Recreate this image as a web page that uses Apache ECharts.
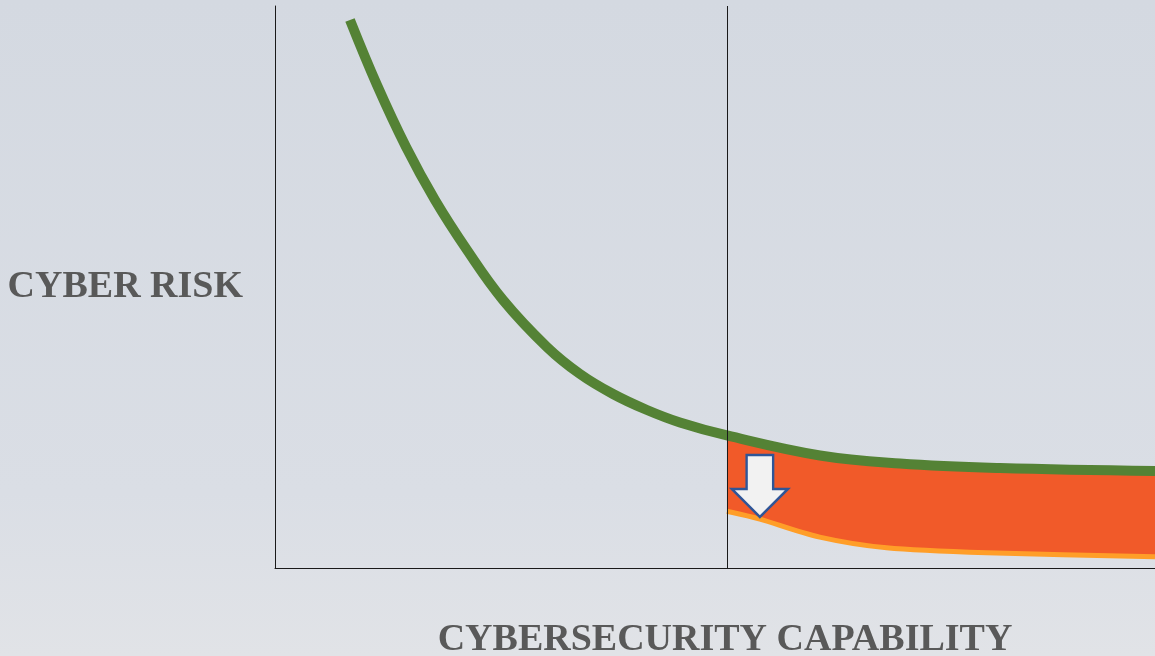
<!DOCTYPE html>
<html>
<head>
<meta charset="UTF-8">
<title>Cyber risk vs capability</title>
<script type="text/javascript" src="https://cdn.jsdelivr.net/npm/echarts@6/dist/echarts.min.js"></script>
<style>
html, body { margin: 0; padding: 0; }
#main { width: 1155px; height: 656px; }
</style>
</head>
<body>
<div id="main"></div>
<script type="text/javascript">
// risk curve (x = capability 0-100, y = risk 0-100)
var riskX = [8.52, 11.59, 14.89, 18.18, 21.82, 25.91, 30.91, 34.66, 38.41, 42.27, 46.02, 51.36, 61.93, 71.02, 82.39, 100];
var riskY = [97.51, 85.94, 74.91, 65.48, 56.58, 47.69, 39.32, 34.52, 30.96, 28.11, 25.89, 23.58, 20.02, 18.59, 17.79, 17.26];

// reduced-risk band, from the current capability onwards
var bandX = [51.36, 55.1, 61.9, 69.5, 80.9, 100];
var bandLow = [10.1, 8.7, 5.5, 3.6, 2.7, 2.0];
var bandHigh = [23.58, 22.24, 20.02, 18.86, 17.88, 17.26];

var currentX = 51.36;
var arrowAt = [55.1, 14.6];

var axisTitleX = 'CYBERSECURITY CAPABILITY';
var axisTitleY = 'CYBER RISK';

function pairs(xs, ys) {
	var out = [];
	for (var i = 0; i < xs.length; i++) out.push([xs[i], ys[i]]);
	return out;
}

// catmull-rom -> cubic bezier segments (starting point not included)
function curveTo(pts) {
	var s = '';
	for (var i = 0; i < pts.length - 1; i++) {
		var p0 = pts[Math.max(i - 1, 0)], p1 = pts[i], p2 = pts[i + 1], p3 = pts[Math.min(i + 2, pts.length - 1)];
		var c1 = [p1[0] + (p2[0] - p0[0]) / 6, p1[1] + (p2[1] - p0[1]) / 6];
		var c2 = [p2[0] - (p3[0] - p1[0]) / 6, p2[1] - (p3[1] - p1[1]) / 6];
		s += ' C' + c1[0] + ' ' + c1[1] + ' ' + c2[0] + ' ' + c2[1] + ' ' + p2[0] + ' ' + p2[1];
	}
	return s;
}

function renderBand(params, api) {
	var top = [], low = [];
	for (var i = 0; i < bandX.length; i++) {
		top.push(api.coord([bandX[i], bandHigh[i]]));
		low.push(api.coord([bandX[i], bandLow[i]]));
	}
	var lowRev = low.slice().reverse();
	var fillPath = 'M' + top[0][0] + ' ' + top[0][1] + curveTo(top) +
		' L' + lowRev[0][0] + ' ' + lowRev[0][1] + curveTo(lowRev) + ' Z';
	var edgePath = 'M' + low[0][0] + ' ' + low[0][1] + curveTo(low);
	return {
		type: 'group',
		children: [
			{ type: 'path', shape: { pathData: fillPath }, style: { fill: '#F15A29' } },
			{ type: 'path', shape: { pathData: edgePath }, style: { fill: null, stroke: '#FF9E28', lineWidth: 5 } }
		]
	};
}

var chart = echarts.init(document.getElementById('main'));

var labelFont = {
	fontFamily: 'Liberation Serif',
	fontWeight: 'bold',
	fontSize: 38,
	color: '#595959'
};

var option = {
	animation: false,
	backgroundColor: {
		type: 'linear', x: 0, y: 0, x2: 0, y2: 1,
		colorStops: [
			{ offset: 0, color: '#D4D9E1' },
			{ offset: 0.75, color: '#DADEE5' },
			{ offset: 1, color: '#E1E3E7' }
		]
	},
	grid: { left: 275, right: 0, top: 6, bottom: 88, outerBoundsMode: 'none', containLabel: false },
	xAxis: {
		type: 'value', min: 0, max: 100,
		name: axisTitleX, nameLocation: 'middle', nameGap: 53,
		nameTextStyle: Object.assign({ padding: [0, 0, 0, 20] }, labelFont),
		axisLine: { show: true, lineStyle: { color: '#1a1a1a', width: 1 } },
		axisTick: { show: false }, axisLabel: { show: false }, splitLine: { show: false }
	},
	yAxis: {
		type: 'value', min: 0, max: 100,
		name: axisTitleY, nameLocation: 'middle', nameGap: 32, nameRotate: 0,
		nameTextStyle: Object.assign({ padding: [6, 0, 0, 0] }, labelFont),
		axisLine: { show: true, lineStyle: { color: '#1a1a1a', width: 1 } },
		axisTick: { show: false }, axisLabel: { show: false }, splitLine: { show: false }
	},
	series: [
		{
			name: 'band', type: 'custom',
			renderItem: renderBand,
			data: [[bandX[0], bandLow[0]]],
			silent: true,
			z: 2
		},
		{
			name: 'risk', type: 'line', smooth: 0.4,
			data: pairs(riskX, riskY), symbol: 'none',
			lineStyle: { color: '#548235', width: 10, cap: 'butt' },
			z: 4,
			markLine: {
				silent: true, symbol: 'none',
				label: { show: false },
				lineStyle: { color: '#1a1a1a', width: 1, type: 'solid' },
				data: [{ xAxis: currentX }]
			},
			markPoint: {
				symbol: 'path://M15 0 L42 0 L42 34 L57 34 L28.5 62 L0 34 L15 34 Z',
				symbolSize: [56, 62],
				itemStyle: { color: '#F2F2F2', borderColor: '#2F5597', borderWidth: 2.5 },
				label: { show: false },
				data: [{ coord: arrowAt }]
			}
		}
	]
};

chart.setOption(option);
</script>
</body>
</html>
